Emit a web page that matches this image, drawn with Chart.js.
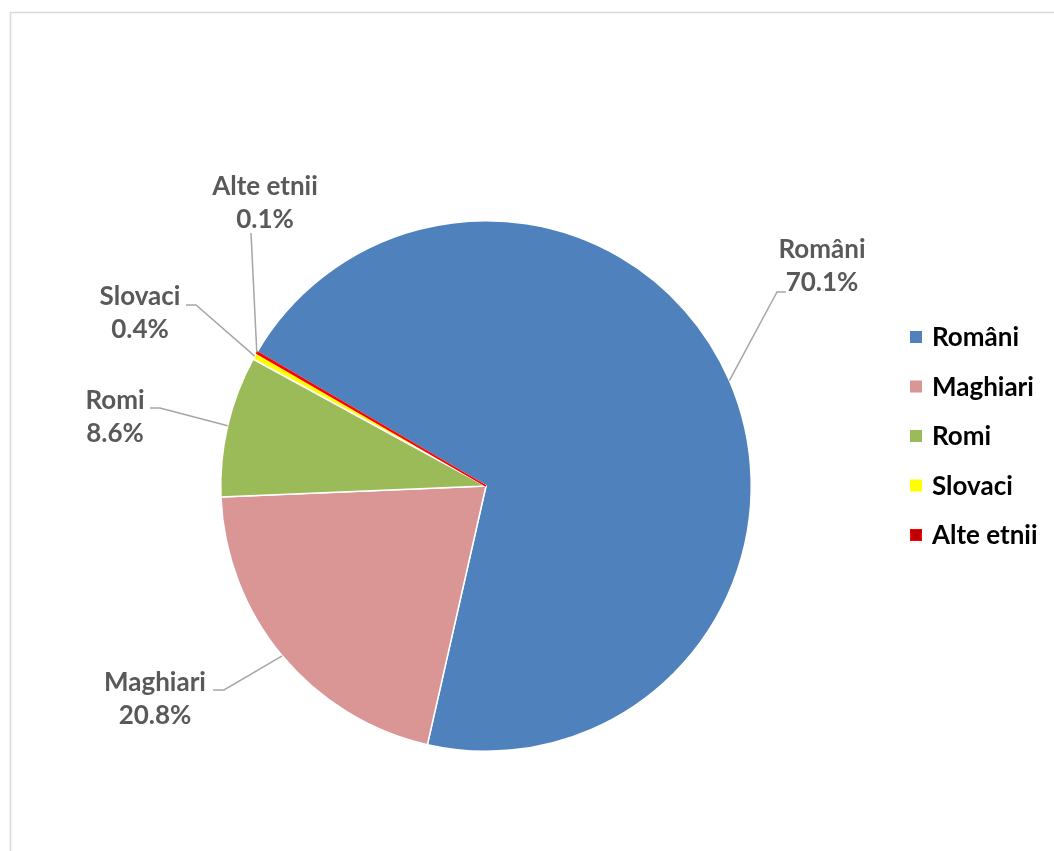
<!DOCTYPE html>
<html>
<head>
<meta charset="utf-8">
<script src="https://cdn.jsdelivr.net/npm/chart.js@4.4.1/dist/chart.umd.min.js"></script>
<style>
  html, body { margin: 0; padding: 0; background: #fff; }
  #wrap { position: relative; width: 1054px; height: 851px; }
</style>
</head>
<body>
<div id="wrap"><canvas id="pieChart" width="1054" height="851"></canvas></div>
<script>
// Data
const ethnicLabels = ['Români', 'Maghiari', 'Romi', 'Slovaci', 'Alte etnii'];
const ethnicShares = [70.1, 20.8, 8.6, 0.4, 0.1];
const sliceColors = ['#4F81BD', '#D99694', '#9BBB59', '#FFFF00', '#C00000'];
const sliceBorders = ['#ffffff', '#ffffff', '#ffffff', '#ffffff', '#FF0000'];

// where each data label text sits (center of two-line block) and the elbow of its leader line
const labelLayout = {
    'Români':     { x: 822, y: 266, elbow: [777, 292], end: [786, 292] },
    'Maghiari':   { x: 155, y: 699, elbow: [224, 690], end: [213, 690] },
    'Romi':       { x: 115, y: 417, elbow: [160, 408], end: [150, 408] },
    'Slovaci':    { x: 140, y: 313, elbow: [196, 305], end: [186, 305] },
    'Alte etnii': { x: 265, y: 203, elbow: [251, 233], end: [251, 233] }
};

const FONT = 'Lato, "Open Sans", sans-serif';

// Frame + leader lines + data labels + legend
const decorPlugin = {
    id: 'decor',
    beforeDraw(chart) {
        const ctx = chart.ctx;
        ctx.save();
        ctx.strokeStyle = '#d9d9d9';
        ctx.lineWidth = 1.5;
        ctx.beginPath();
        ctx.moveTo(10.5, 851);
        ctx.lineTo(10.5, 12.5);
        ctx.lineTo(1054, 12.5);
        ctx.stroke();
        ctx.restore();
    },
    afterDraw(chart) {
        const ctx = chart.ctx;
        const arcs = chart.getDatasetMeta(0).data;
        ctx.save();

        // leader lines
        ctx.strokeStyle = '#a6a6a6';
        ctx.lineWidth = 1.5;
        arcs.forEach((arc, i) => {
            const lay = labelLayout[ethnicLabels[i]];
            const mid = (arc.startAngle + arc.endAngle) / 2;
            const sx = arc.x + Math.cos(mid) * arc.outerRadius;
            const sy = arc.y + Math.sin(mid) * arc.outerRadius;
            ctx.beginPath();
            ctx.moveTo(sx, sy);
            ctx.lineTo(lay.elbow[0], lay.elbow[1]);
            ctx.lineTo(lay.end[0], lay.end[1]);
            ctx.stroke();
        });

        // data labels
        ctx.fillStyle = '#595959';
        ctx.font = 'bold 26px ' + FONT;
        ctx.textAlign = 'center';
        ctx.textBaseline = 'middle';
        ethnicLabels.forEach((name, i) => {
            const lay = labelLayout[name];
            ctx.fillText(name, lay.x, lay.y - 16);
            ctx.fillText(ethnicShares[i].toFixed(1) + '%', lay.x, lay.y + 17);
        });

        // legend
        ctx.textAlign = 'left';
        ctx.font = 'bold 26px ' + FONT;
        ethnicLabels.forEach((name, i) => {
            const y = 337 + i * 49.5;
            ctx.fillStyle = sliceColors[i];
            ctx.fillRect(910, y - 6, 12, 12);
            if (sliceBorders[i] !== '#ffffff') {
                ctx.strokeStyle = sliceBorders[i];
                ctx.lineWidth = 1;
                ctx.strokeRect(910.5, y - 5.5, 11, 11);
            }
            ctx.fillStyle = '#000000';
            ctx.fillText(name, 932, y + 1);
        });
        ctx.restore();
    }
};

new Chart(document.getElementById('pieChart'), {
    type: 'pie',
    data: {
        labels: ethnicLabels,
        datasets: [{
            data: ethnicShares,
            backgroundColor: sliceColors,
            borderColor: sliceBorders,
            borderWidth: 1.5
        }]
    },
    options: {
        responsive: false,
        animation: false,
        rotation: -59.6,
        layout: { padding: { left: 220, top: 220, right: 302, bottom: 99 } },
        plugins: {
            legend: { display: false },
            tooltip: { enabled: false }
        }
    },
    plugins: [decorPlugin]
});
</script>
</body>
</html>
